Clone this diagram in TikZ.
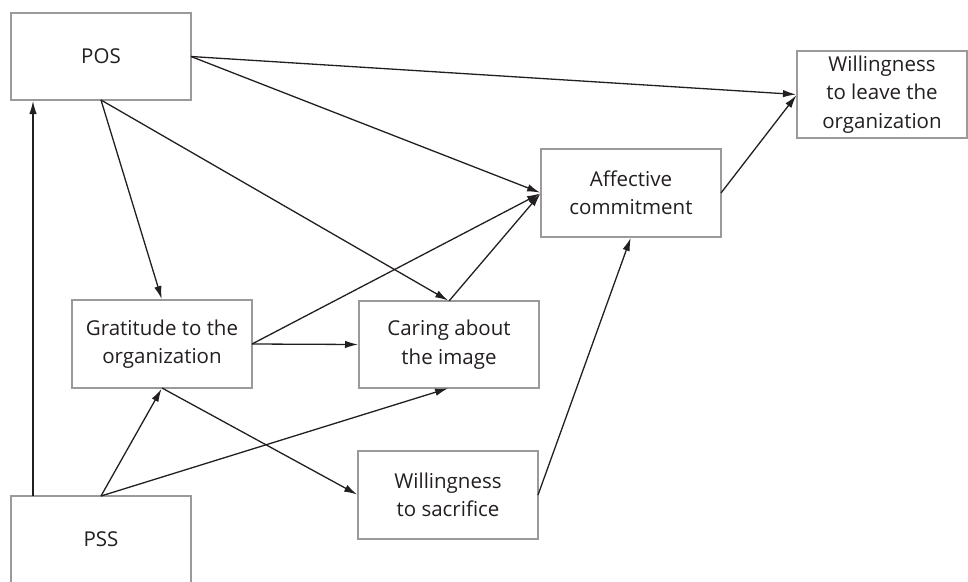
\documentclass[tikz,border=0pt]{standalone}
\usepackage{fontspec}
\setmainfont{Open Sans}
\usetikzlibrary{arrows.meta}
\definecolor{boxgray}{HTML}{9A9A9A}
\definecolor{txt}{HTML}{231F20}
\begin{document}
\begin{tikzpicture}[x=1pt,y=-1pt,
  box/.style={draw=boxgray, line width=2.4pt, fill=white, outer sep=0pt, inner sep=0pt,
    minimum width=180pt, minimum height=87pt, align=center, text=txt,
    font=\fontsize{20.5}{28.5}\selectfont},
  conn/.style={line width=1.3pt, txt, -{Latex[length=13pt,width=7.5pt]}, shorten >=1pt}]
\useasboundingbox (0,0) rectangle (968,581);
\clip (0,0) rectangle (968,581);
\node[box] (pos) at (101,56.5) {POS};
\node[box, minimum width=170pt] (leave) at (882,94.5) {Willingness\\to leave the\\organization};
\node[box, minimum height=88pt] (aff) at (631,193) {Affective\\commitment};
\node[box, minimum height=88pt] (grat) at (162,344) {Gratitude to the\\organization};
\node[box] (care) at (449,344.5) {Caring about\\the image};
\node[box, minimum height=88pt] (sac) at (448,495) {Willingness\\to sacrifice};
\node[box] (pss) at (101,539.5) {PSS};
% connectors
\draw[conn] ([xshift=22pt]pss.north west) -- ([xshift=22pt]pos.south west);
\draw[conn] (pos.east) -- (leave.west);
\draw[conn] (pos.east) -- (aff.west);
\draw[conn] (pos.south) -- (grat.north);
\draw[conn] (pos.south) -- (care.north);
\draw[conn] (grat.east) -- (aff.west);
\draw[conn] (grat.east) -- (care.west);
\draw[conn] (care.north) -- (aff.west);
\draw[conn] (grat.south) -- (sac.west);
\draw[conn] (pss.north) -- (grat.south);
\draw[conn] (pss.north) -- (care.south);
\draw[conn] (sac.east) -- (aff.south);
\draw[conn] (aff.east) -- (leave.west);
\end{tikzpicture}
\end{document}
